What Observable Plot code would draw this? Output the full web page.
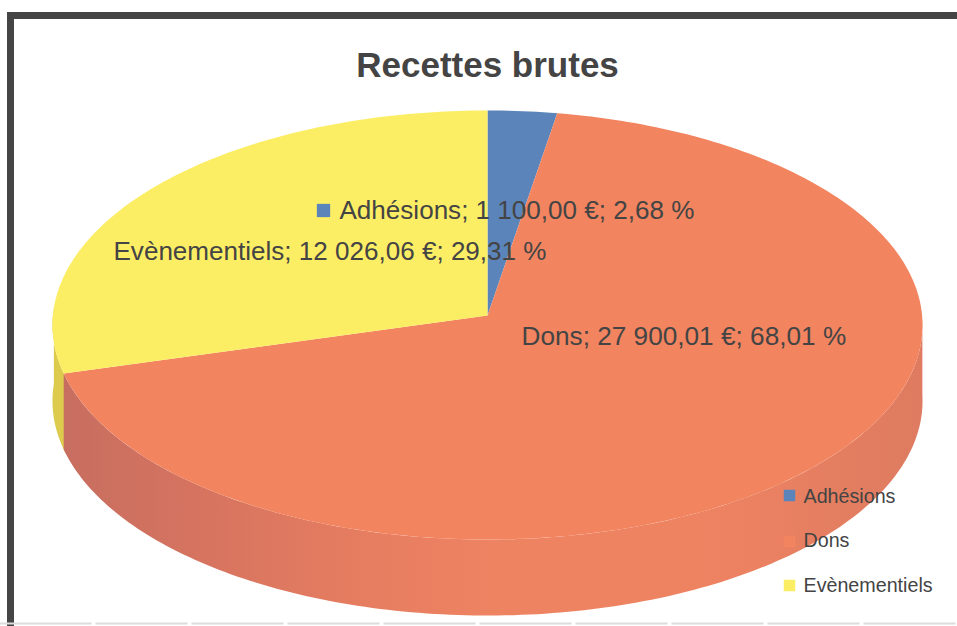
<!DOCTYPE html>
<html><head><meta charset="utf-8">
<script src="https://cdn.jsdelivr.net/npm/d3@7"></script>
<script src="https://cdn.jsdelivr.net/npm/@observablehq/plot@0.6"></script>
<style>html,body{margin:0;padding:0;background:#fff;overflow:hidden}</style>
</head><body>
<script>
const categories = ["Adhésions", "Dons", "Evènementiels"];
const amounts = ["1 100,00 €", "27 900,01 €", "12 026,06 €"];
const percents = [2.68, 68.01, 29.31];
const percentLabels = ["2,68 %", "68,01 %", "29,31 %"];
const colors = ["#5b84ba", "#f28560", "#fcee64"];
const chartTitle = "Recettes brutes";

const W = 957, H = 626;
const cx = 487, cy = 315, rx = 434.6, ry = 214.1, k = -0.0443, depth = 76 / ry;
const rad = Math.PI / 180;
const project = (deg, drop = 0) => {
  const u = Math.sin(deg * rad), v = -Math.cos(deg * rad), w = 1 + k * v;
  return {x: u / w, y: v / w + drop};
};
const arc = (a, b, drop = 0) => {
  const n = Math.max(2, Math.ceil(Math.abs(b - a)));
  return d3.range(n + 1).map(i => project(a + (b - a) * i / n, drop));
};
let acc = 0;
const wedges = categories.map((name, i) => {
  const start = acc; acc += percents[i] * 3.6;
  return {name, start, end: acc};
});
const surface = wedges.flatMap(d => [{x: 0, y: 0}, ...arc(d.start, d.end)].map(p => ({...p, name: d.name})));
const wallOf = (a, b) => [...arc(a, b), ...arc(b, a, depth)];
const donsWall = wallOf(91, wedges[1].end);
const evtWall = wallOf(wedges[2].start - 1, 272);

const gradient = () => {
  const svg = d3.create("svg:defs");
  const g = svg.append("linearGradient").attr("id", "wall").attr("gradientUnits", "userSpaceOnUse")
    .attr("x1", 60).attr("x2", 920).attr("y1", 0).attr("y2", 0);
  [[0, "#c76e60"], [0.15, "#d57360"], [0.35, "#e67d60"], [0.5, "#ee8362"], [0.75, "#ee8362"], [1, "#de7b60"]]
    .forEach(([o, c]) => g.append("stop").attr("offset", o).attr("stop-color", c));
  return svg.node();
};

const font = "Liberation Sans";
const ink = "#444444";
const at = (data, o) => Plot.text(data, {frameAnchor: "top-left", textAnchor: "start", fontFamily: font, fill: ink, lineAnchor: "middle", ...o});
const labelOf = i => `${categories[i]}; ${amounts[i]}; ${percentLabels[i]}`;

const chart = Plot.plot({
  width: W, height: H, margin: 0,
  x: {domain: [-cx / rx, (W - cx) / rx], range: [0, W], axis: null},
  y: {domain: [-cy / ry, (H - cy) / ry], range: [0, H], axis: null},
  color: {domain: categories, range: colors},
  style: {background: "#fff", fontFamily: font},
  marks: [
    gradient,
    Plot.line(evtWall, {x: "x", y: "y", fill: "#dccb4c", stroke: "none", curve: "linear"}),
    Plot.line(donsWall, {x: "x", y: "y", fill: "url(#wall)", stroke: "none", curve: "linear"}),
    Plot.line(surface, {x: "x", y: "y", z: "name", fill: "name", stroke: "none", curve: "linear"}),
    Plot.frame({stroke: "#454545", strokeWidth: 7, insetLeft: 10, insetTop: 15, insetRight: -20, insetBottom: -20}),
    Plot.frame({anchor: "bottom", stroke: "#dcdcdc", strokeWidth: 2, strokeDasharray: "90 6", insetBottom: 3}),
    at([chartTitle], {text: d => d, dx: 487, dy: 65, textAnchor: "middle", fontSize: 35, fontWeight: "bold"}),
    Plot.dot([colors[0]], {frameAnchor: "top-left", dx: 323, dy: 210, symbol: "square", r: 7.5, fill: d => d, stroke: "none"}),
    at([labelOf(0)], {text: d => d, dx: 339, dy: 210, fontSize: 26.05}),
    at([labelOf(2)], {text: d => d, dx: 113, dy: 251, fontSize: 26.05}),
    at([labelOf(1)], {text: d => d, dx: 521, dy: 336, fontSize: 26.2}),
    ...categories.map((c, i) => Plot.dot([c], {frameAnchor: "top-left", dx: 789, dy: [495, 541, 585][i], symbol: "square", r: 6.5, fill: d => d, stroke: "none"})),
    ...categories.map((c, i) => at([c], {text: d => d, dx: 803, dy: [496, 540, 585][i], fontSize: 19.7}))
  ]
});
document.body.appendChild(chart);
</script>
</body></html>
